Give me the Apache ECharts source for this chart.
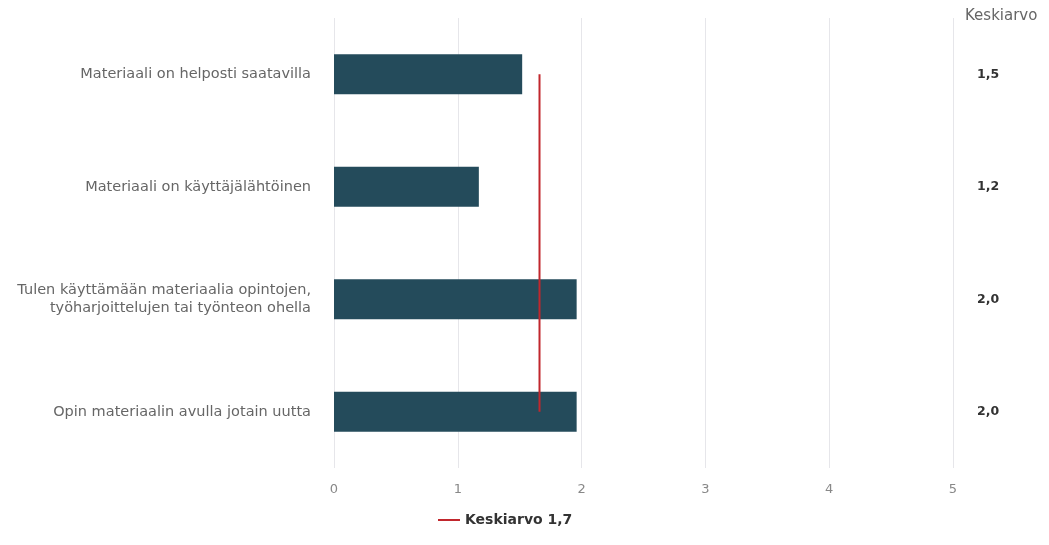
<!DOCTYPE html>
<html><head><meta charset="utf-8">
<script src="https://cdn.jsdelivr.net/npm/echarts@6/dist/echarts.min.js"></script>
<style>html,body{margin:0;padding:0;background:#fff}#c{width:1049px;height:545px}</style>
</head><body><div id="c"></div>
<script>
const categories = [
  'Materiaali on helposti saatavilla',
  'Materiaali on käyttäjälähtöinen',
  'Tulen käyttämään materiaalia opintojen,\ntyöharjoittelujen tai työnteon ohella',
  'Opin materiaalin avulla jotain uutta'
];
const means = [1.52, 1.17, 1.96, 1.96];
const overallMean = 1.66;
const xTicks = [0, 1, 2, 3, 4, 5];
const meanHeader = 'Keskiarvo';

const fmt = v => v.toFixed(1).replace('.', ',');
const legendName = 'Keskiarvo ' + fmt(overallMean);
const font = '"DejaVu Sans", "Open Sans", sans-serif';

const chart = echarts.init(document.getElementById('c'), null, {renderer: 'canvas'});
chart.setOption({
  animation: false,
  textStyle: {fontFamily: font},
  title: {
    text: meanHeader, left: 960, top: 4,
    textStyle: {fontSize: 15, fontWeight: 'normal', color: '#666', fontFamily: font}
  },
  legend: {
    data: [{name: legendName, icon: 'rect'}], left: 433, top: 508,
    itemWidth: 22, itemHeight: 2, itemGap: 10,
    textStyle: {fontSize: 14, fontWeight: 'bold', color: '#333', fontFamily: font}
  },
  grid: {left: 334, right: 96, top: 18, bottom: 77, containLabel: false},
  xAxis: {
    type: 'value', min: xTicks[0], max: xTicks[xTicks.length - 1], interval: 1,
    axisLine: {show: false}, axisTick: {show: false},
    axisLabel: {color: '#888', fontSize: 13, margin: 15, fontFamily: font},
    splitLine: {lineStyle: {color: '#e6e6ea', width: 1}}
  },
  yAxis: [{
    type: 'category', data: categories, inverse: true,
    axisLine: {show: false}, axisTick: {show: false},
    axisLabel: {color: '#666', fontSize: 14.5, margin: 23, lineHeight: 18, align: 'right', fontFamily: font}
  }, {
    type: 'category', data: categories, inverse: true, position: 'right',
    axisLine: {show: false}, axisTick: {show: false},
    axisLabel: {
      color: '#333', fontSize: 12.5, fontWeight: 'bold', margin: 24, fontFamily: font,
      formatter: (v, i) => fmt(means[i])
    }
  }],
  series: [{
    type: 'bar', data: means, barWidth: 40, yAxisIndex: 0,
    itemStyle: {color: '#244b5b'}
  }, {
    name: legendName, type: 'line', yAxisIndex: 0, symbol: 'none',
    data: [[overallMean, categories[0]], [overallMean, categories[categories.length - 1]]],
    lineStyle: {color: '#c1272d', width: 2}, itemStyle: {color: '#c1272d'}
  }]
});
</script></body></html>
